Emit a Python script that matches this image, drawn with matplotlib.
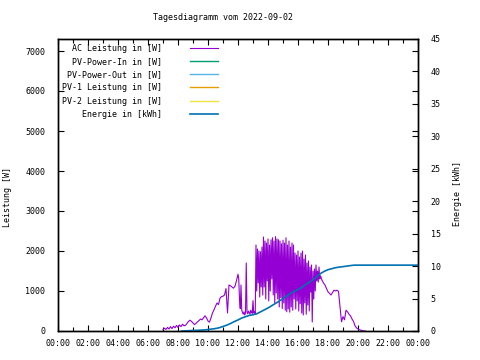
import matplotlib
matplotlib.use("Agg")
import matplotlib.pyplot as plt
from matplotlib.ticker import MultipleLocator, FuncFormatter

# AC Leistung [W], sampled in three blocks (start hour, step in hours, values)
ac_morning_start, ac_morning_step = 7.0, 0.1
ac_morning = [30, 70, 40, 90, 50, 110, 60, 120, 80, 140,
              90, 150, 110, 170, 130, 140, 190, 240, 270, 240,
              200, 160, 190, 230, 260, 300, 280, 330, 380, 330,
              250, 220, 330, 450, 530, 620, 700, 660, 820, 860,
              870, 900, 1060, 450, 1150, 1130, 1100, 1070, 1120, 1260]

ac_midday_start, ac_midday_step = 12.0, 0.05
ac_midday = [1420, 1300, 800, 560, 1150, 520, 460, 420, 480, 400,
             450, 1700, 480, 430, 500, 460, 420, 520, 470, 440,
             760, 450, 480, 430, 2150, 1000, 2050, 1200, 2000, 850,
             1980, 1100, 2100, 900, 2350, 1100, 2250, 800, 2200, 1250,
             2300, 750, 2150, 1000, 2280, 1300, 2330, 900, 2250, 700,
             2360, 950, 2300, 800, 2280, 600, 2250, 830, 2180, 560,
             2270, 700, 2200, 520, 2330, 480, 2150, 550, 2250, 470,
             2100, 600, 2200, 520, 2150, 800, 1950, 550, 1900, 750,
             2000, 500, 1850, 680, 1950, 450, 2000, 400, 1800, 700,
             1900, 420, 1700, 650, 1750, 500, 1600, 970, 1650, 225,
             1500, 800, 1550, 1000, 1650, 1250, 1500, 1220, 1600, 1300]

ac_evening_start, ac_evening_step = 17.5, 0.1
ac_evening = [1380, 1270, 1200, 1150, 1060, 980, 940, 900, 960, 1020,
              1000, 1020, 990, 620, 230, 360, 280, 520, 480, 420,
              380, 300, 240, 130, 80, 50, 30, 20, 10, 0, 0]

# Energie [kWh]
energy_hours = [8.25, 8.5, 8.75, 9.0, 9.25, 9.5, 9.75, 10.0, 10.25, 10.5,
                10.75, 11.0, 11.25, 11.5, 11.75, 12.0, 12.25, 12.5, 12.75, 13.0,
                13.25, 13.5, 13.75, 14.0, 14.25, 14.5, 14.75, 15.0, 15.25, 15.5,
                15.75, 16.0, 16.25, 16.5, 16.75, 17.0, 17.25, 17.5, 17.75, 18.0,
                18.25, 18.5, 18.75, 19.0, 19.25, 19.5, 19.75, 24.0]
energy_kwh = [0.0, 0.02, 0.05, 0.08, 0.1, 0.13, 0.16, 0.22, 0.3, 0.38,
              0.5, 0.7, 0.9, 1.15, 1.45, 1.7, 2.0, 2.2, 2.4, 2.5,
              2.65, 2.95, 3.25, 3.55, 3.9, 4.25, 4.6, 5.0, 5.4, 5.8,
              6.1, 6.4, 6.7, 7.15, 7.5, 7.9, 8.4, 8.85, 9.2, 9.45,
              9.6, 9.75, 9.85, 9.92, 10.0, 10.08, 10.15, 10.15]

labels = ["AC Leistung in [W]", "PV-Power-In in [W]", "PV-Power-Out in [W]",
          "PV-1 Leistung in [W]", "PV-2 Leistung in [W]", "Energie in [kWh]"]
colors = ["#9400d3", "#009e73", "#56b4e9", "#e69f00", "#f0e442", "#0072b2"]

title = "Tagesdiagramm vom 2022-09-02"

FS = 6.0
plt.rcParams["font.family"] = "DejaVu Sans Mono"
plt.rcParams["font.size"] = FS


def block(start, step, vals):
    return [start + i * step for i in range(len(vals))]


ac_hours = (block(ac_morning_start, ac_morning_step, ac_morning)
            + block(ac_midday_start, ac_midday_step, ac_midday)
            + block(ac_evening_start, ac_evening_step, ac_evening))
ac_watt = ac_morning + ac_midday + ac_evening

fig = plt.figure(figsize=(4.8, 3.6), dpi=100)
ax = fig.add_axes([58 / 480, 29 / 360, 360 / 480, 292 / 360])
ax2 = ax.twinx()

# gnuplot right-aligns key text; monospace lets us pad with spaces
width = max(len(l) for l in labels)
padded = [l.rjust(width) for l in labels]

handles = []
h, = ax.plot(ac_hours, ac_watt, color=colors[0], lw=0.8)
handles.append(h)
for c in colors[1:5]:
    h, = ax.plot([], [], color=c, lw=1.0)
    handles.append(h)
h, = ax2.plot(energy_hours, energy_kwh, color=colors[5], lw=1.2)
handles.append(h)

ax.set_xlim(0, 24)
ax.set_ylim(0, 7300)
ax2.set_ylim(0, 45)

ax.xaxis.set_major_locator(MultipleLocator(2))
ax.xaxis.set_minor_locator(MultipleLocator(1))
ax.xaxis.set_major_formatter(FuncFormatter(lambda v, p: "%02d:00" % (int(round(v)) % 24)))
ax.yaxis.set_major_locator(MultipleLocator(1000))
ax2.yaxis.set_major_locator(MultipleLocator(5))

ax.tick_params(which="both", direction="in", top=True, right=True, labelsize=FS)
ax.tick_params(which="major", length=4, width=0.8)
ax.tick_params(which="minor", length=3, width=0.8)
ax.tick_params(axis="x", pad=6)
ax.tick_params(axis="y", pad=9)
ax2.tick_params(direction="in", length=4, width=0.8, labelsize=FS, pad=9)

for a in (ax, ax2):
    for s in a.spines.values():
        s.set_linewidth(1.0)

ax.set_ylabel("Leistung [W]", fontsize=FS)
ax.yaxis.set_label_coords((12 - 58) / 360, 0.46)
ax2.set_ylabel("Energie [kWh]", fontsize=FS, rotation=90)
ax2.yaxis.set_label_coords((453 - 58) / 360, 0.47)
fig.text(223 / 480, 1 - 18 / 360, title, ha="center", va="center", fontsize=FS)

ax2.legend(handles, padded, loc="upper left", bbox_to_anchor=(0.005, 0.992),
           frameon=False, markerfirst=False, fontsize=FS,
           handlelength=3.4, handletextpad=3.3, labelspacing=0.50,
           borderpad=0.3, borderaxespad=0)

fig.savefig("out.png", dpi=100)
